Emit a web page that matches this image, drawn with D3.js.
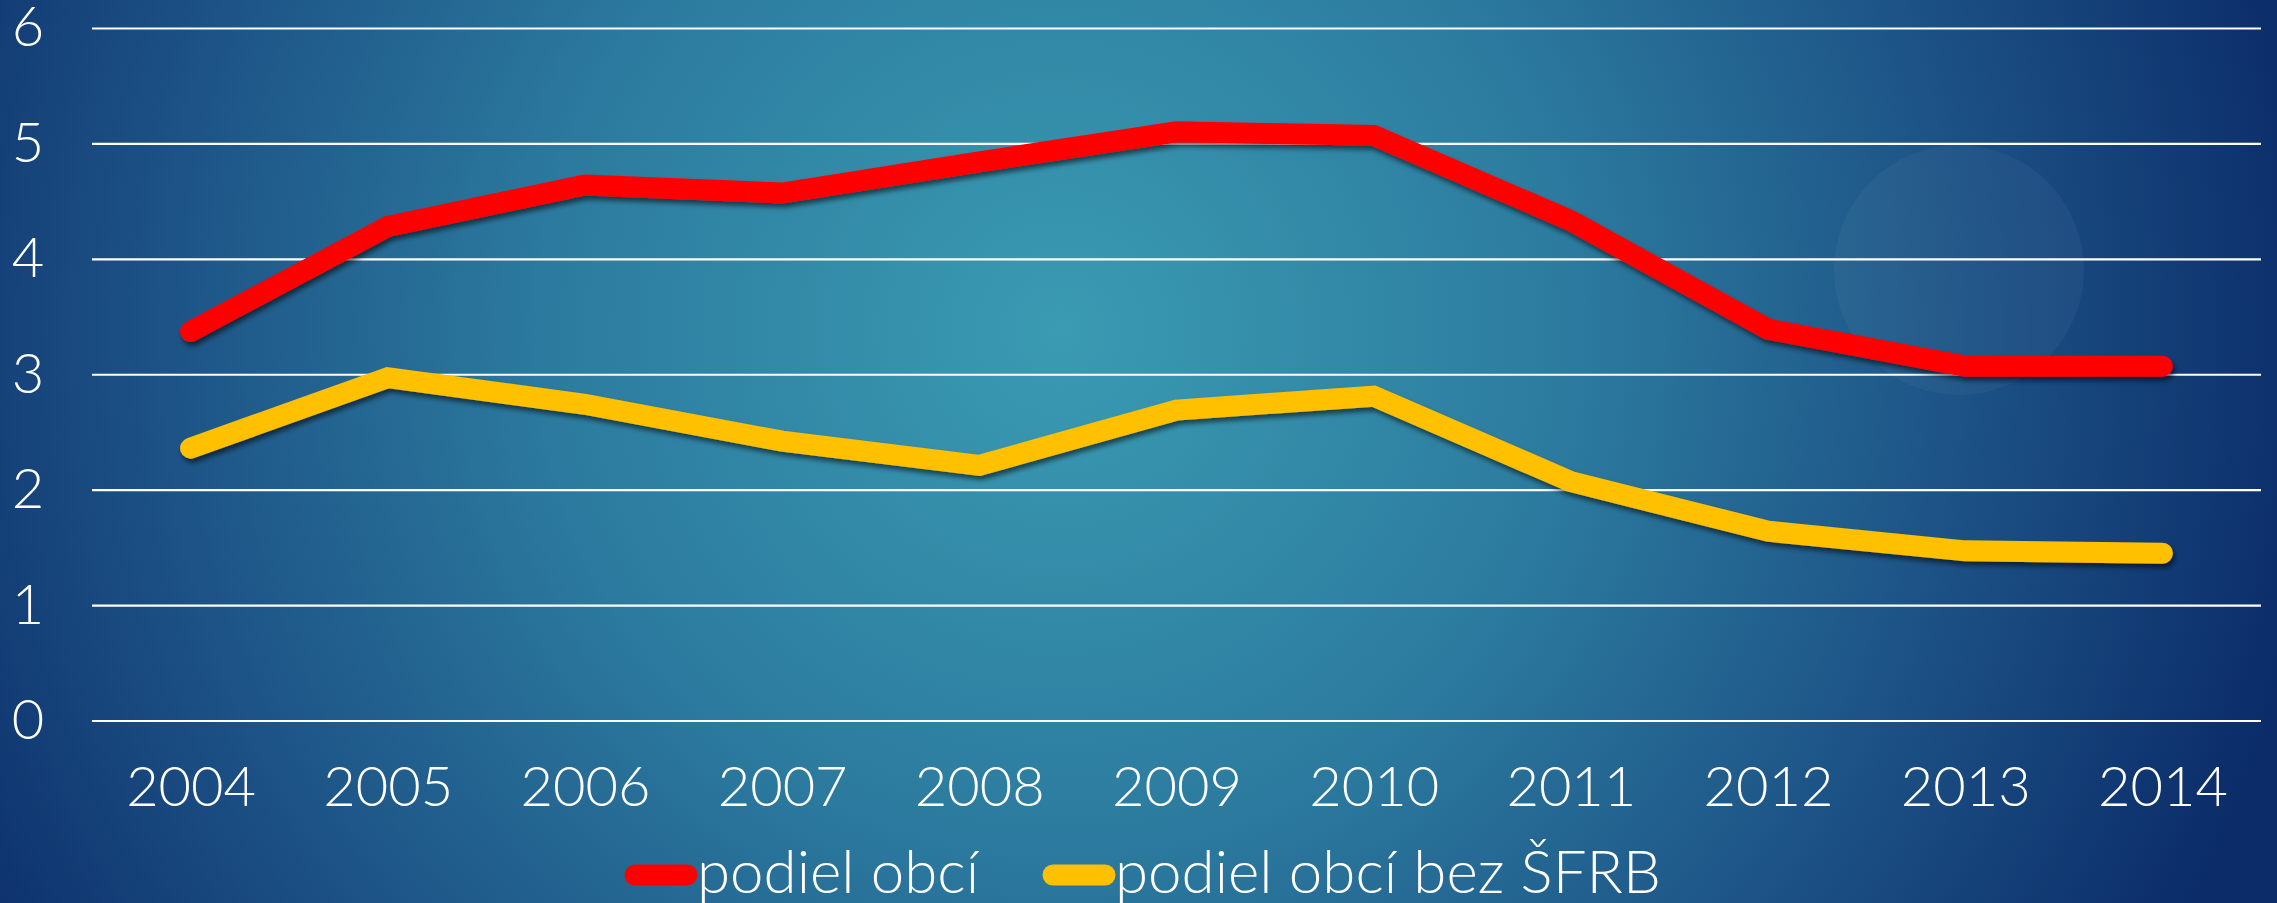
<!DOCTYPE html>
<html>
<head>
<meta charset="utf-8">
<script src="https://cdn.jsdelivr.net/npm/d3@7"></script>
<style>
  html, body { margin: 0; padding: 0; background: #0b2c69; overflow: hidden; }
  svg { display: block; font-family: "Lato", "Open Sans", sans-serif; font-weight: 300; }
</style>
</head>
<body>
<script>
// data
var years = ["2004", "2005", "2006", "2007", "2008", "2009", "2010", "2011", "2012", "2013", "2014"];
var podielObci = [3.37, 4.28, 4.64, 4.57, 4.84, 5.10, 5.07, 4.33, 3.39, 3.07, 3.07];
var podielObciBezSFRB = [2.36, 2.97, 2.74, 2.42, 2.21, 2.69, 2.81, 2.07, 1.64, 1.47, 1.45];
var yTicks = [0, 1, 2, 3, 4, 5, 6];
var seriesNames = ["podiel obcí", "podiel obcí bez ŠFRB"];

var w = 2277,
    h = 903;

var margin = {top: 28, right: 16, bottom: 182.5, left: 92},
    width = w - margin.left - margin.right,
    height = h - margin.top - margin.bottom;

var svg = d3.select("body").append("svg")
    .attr("width", w)
    .attr("height", h);

var defs = svg.append("defs");

var bg = defs.append("radialGradient")
    .attr("id", "bg")
    .attr("gradientUnits", "userSpaceOnUse")
    .attr("cx", 1060)
    .attr("cy", 330)
    .attr("r", 1270);
bg.append("stop").attr("offset", "0").attr("stop-color", "#3a9bb2");
bg.append("stop").attr("offset", "0.4").attr("stop-color", "#2c7b9f");
bg.append("stop").attr("offset", "0.72").attr("stop-color", "#1c5185");
bg.append("stop").attr("offset", "1").attr("stop-color", "#0b2c69");

var shadow = defs.append("filter")
    .attr("id", "shadow")
    .attr("x", "-5%").attr("y", "-20%")
    .attr("width", "110%").attr("height", "140%");
shadow.append("feDropShadow")
    .attr("dx", 2)
    .attr("dy", 4)
    .attr("stdDeviation", 2.5)
    .attr("flood-color", "#000")
    .attr("flood-opacity", 0.55);

svg.append("rect")
    .attr("width", w)
    .attr("height", h)
    .attr("fill", "url(#bg)");

// faint decorative circle on the right
svg.append("circle")
    .attr("cx", 1959)
    .attr("cy", 270)
    .attr("r", 125)
    .attr("fill", "#ffffff")
    .attr("fill-opacity", 0.04);

var g = svg.append("g")
    .attr("transform", "translate(" + margin.left + "," + margin.top + ")");

//scales
var xScale = d3.scalePoint()
    .domain(years)
    .range([0, width])
    .padding(0.5);
var yScale = d3.scaleLinear()
    .domain([0, 6])
    .range([height, 0]);
var colors = d3.scaleOrdinal()
    .domain(seriesNames)
    .range(["#ff0000", "#ffc000"]);

// gridlines + y labels
var yAxis = g.append("g")
    .attr("class", "axis-y")
    .call(d3.axisLeft(yScale).tickValues(yTicks).tickSize(-width).tickFormat(d3.format("d")))
    .attr("font-family", null)
    .attr("font-size", null);
yAxis.select(".domain").remove();
yAxis.selectAll("line")
    .attr("stroke", "#ffffff")
    .attr("stroke-width", 2.2);
yAxis.selectAll("text")
    .attr("x", 28 - margin.left)
    .attr("text-anchor", "middle")
    .attr("fill", "#ffffff")
    .style("font-size", "56px");

// x labels
var xAxis = g.append("g")
    .attr("class", "axis-x")
    .attr("transform", "translate(0," + height + ")")
    .call(d3.axisBottom(xScale).tickSize(0).tickPadding(46))
    .attr("font-family", null)
    .attr("font-size", null);
xAxis.select(".domain").remove();
xAxis.selectAll("text")
    .attr("fill", "#ffffff")
    .style("font-size", "56px");

var line = d3.line()
    .x(function(d, i) { return xScale(years[i]); })
    .y(function(d) { return yScale(d); });

var series = [
  {name: seriesNames[0], values: podielObci},
  {name: seriesNames[1], values: podielObciBezSFRB}
];

g.selectAll(".series")
    .data(series)
  .enter().append("path")
    .attr("class", "series")
    .attr("d", function(d) { return line(d.values); })
    .attr("fill", "none")
    .attr("stroke", function(d) { return colors(d.name); })
    .attr("stroke-width", 21)
    .attr("stroke-linecap", "round")
    .attr("stroke-linejoin", "miter")
    .attr("filter", "url(#shadow)");

// legend
var legend = svg.append("g")
    .attr("class", "legend")
    .attr("transform", "translate(625,875)");

var lx = 0;
series.forEach(function(s, i) {
  var item = legend.append("g").attr("transform", "translate(" + lx + ",0)");
  item.append("line")
      .attr("x1", 10)
      .attr("x2", 62)
      .attr("stroke", colors(s.name))
      .attr("stroke-width", 21)
      .attr("stroke-linecap", "round");
  var t = item.append("text")
      .attr("x", 72)
      .attr("y", 18)
      .attr("fill", "#ffffff")
      .style("font-size", "60px")
      .text(s.name);
  lx += 72 + t.node().getComputedTextLength() + 64;
});
</script>
</body>
</html>
